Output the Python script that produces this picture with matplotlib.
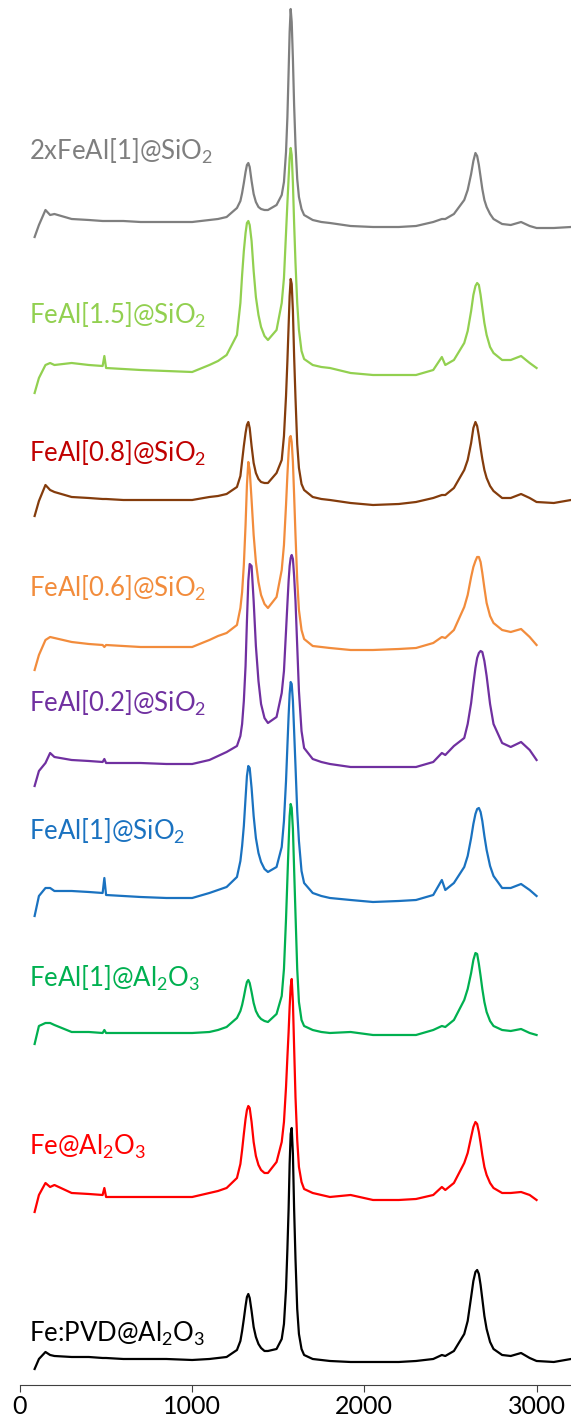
import numpy as np
import matplotlib
matplotlib.use("Agg")
import matplotlib.pyplot as plt

plt.rcParams['font.family'] = ['Lato', 'DejaVu Sans']
plt.rcParams['mathtext.fontset'] = 'custom'
plt.rcParams['mathtext.rm'] = 'Lato'
plt.rcParams['mathtext.default'] = 'regular'

# Raman shift (cm-1), shared by all spectra
shift = [85, 110, 148, 175, 200, 300, 400, 480, 490, 500, 600, 700, 850,
         1000, 1100, 1150, 1200, 1260, 1280, 1290, 1300, 1310, 1318, 1326,
         1334, 1345, 1357, 1370, 1385, 1400, 1420, 1440, 1490, 1520, 1533,
         1545, 1553, 1560, 1566, 1572, 1578, 1585, 1592, 1600, 1610, 1620,
         1635, 1650, 1700, 1750, 1800, 1920, 2050, 2200, 2300, 2400, 2450,
         2470, 2520, 2580, 2600, 2620, 2633, 2645, 2655, 2665, 2675, 2685,
         2697, 2710, 2730, 2750, 2800, 2850, 2910, 2960, 3000]
# three spectra go on past 3000
shift_tail = [3100, 3200]

# intensities (a.u.)
i_2x_feal1_sio2 = [0, 12, 27, 22, 23, 18, 17, 16, 16, 16, 16, 15, 15,
                   15, 17, 18, 20, 29, 36, 44, 54, 65, 72, 74,
                   70, 56, 43, 35, 30, 28, 27, 27, 32, 42, 55,
                   85, 120, 165, 205, 228, 215, 178, 132, 92, 58, 40,
                   28, 22, 17, 15, 14, 11, 10, 10, 11, 15, 18,
                   18, 23, 37, 47, 63, 76, 84, 81, 72, 60, 48,
                   37, 30, 23, 18, 13, 12, 15, 11, 9]
tail_2x_feal1_sio2 = [9, 10]

i_feal15_sio2 = [0, 15, 28, 30, 28, 30, 28, 27, 37, 25, 24, 23, 22,
                 21, 28, 32, 38, 58, 90, 118, 142, 160, 170, 172,
                 168, 152, 122, 96, 78, 66, 57, 53, 63, 90, 115,
                 160, 190, 215, 235, 245, 238, 210, 170, 130, 90, 63,
                 42, 34, 28, 26, 25, 20, 18, 18, 18, 23, 36,
                 28, 33, 50, 62, 82, 98, 107, 110, 108, 98, 85,
                 70, 58, 46, 40, 33, 33, 37, 30, 25]

i_feal08_sio2 = [0, 15, 31, 26, 24, 19, 18, 17, 17, 17, 16, 16, 16,
                 16, 19, 20, 22, 29, 40, 55, 70, 83, 91, 94,
                 88, 70, 53, 43, 37, 34, 33, 33, 43, 56, 80,
                 120, 155, 190, 220, 237, 232, 205, 160, 118, 72, 48,
                 32, 26, 19, 17, 16, 13, 11, 12, 14, 18, 21,
                 21, 28, 46, 56, 73, 88, 94, 90, 80, 68, 57,
                 46, 38, 30, 25, 18, 18, 22, 18, 14]
tail_feal08_sio2 = [13, 16]

i_feal06_sio2 = [0, 15, 30, 33, 32, 28, 26, 25, 23, 25, 24, 23, 23,
                 23, 30, 34, 37, 45, 62, 78, 105, 145, 185, 208,
                 200, 170, 135, 108, 88, 75, 66, 62, 73, 100, 125,
                 165, 195, 218, 232, 234, 228, 208, 175, 135, 90, 60,
                 40, 31, 24, 23, 22, 20, 20, 21, 22, 27, 33,
                 32, 40, 63, 75, 93, 103, 109, 113, 113, 108, 97,
                 82, 67, 54, 47, 40, 38, 41, 33, 25]

i_feal02_sio2 = [0, 15, 23, 33, 29, 26, 25, 24, 27, 23, 23, 23, 22,
                 22, 26, 30, 34, 40, 50, 62, 85, 120, 165, 205,
                 222, 220, 185, 140, 105, 82, 68, 63, 69, 93, 115,
                 155, 182, 205, 220, 228, 231, 227, 210, 185, 140, 95,
                 55, 38, 27, 24, 22, 19, 19, 19, 19, 24, 33,
                 31, 40, 48, 62, 83, 102, 118, 128, 133, 135, 134,
                 125, 110, 82, 62, 43, 39, 44, 36, 26]

i_feal1_sio2 = [0, 20, 28, 28, 25, 25, 24, 23, 38, 21, 20, 19, 18,
                18, 23, 26, 29, 39, 55, 70, 90, 118, 140, 150,
                148, 128, 100, 78, 63, 54, 47, 44, 49, 69, 95,
                135, 170, 200, 222, 234, 232, 215, 185, 150, 105, 75,
                45, 33, 23, 20, 18, 16, 14, 15, 16, 21, 36,
                26, 33, 49, 60, 78, 92, 102, 107, 108, 104, 95,
                80, 66, 50, 40, 28, 28, 32, 26, 20]

i_feal1_al2o3 = [0, 18, 21, 21, 19, 12, 12, 11, 14, 11, 11, 11, 11,
                 11, 12, 14, 17, 26, 33, 39, 47, 56, 62, 64,
                 61, 52, 41, 33, 28, 25, 23, 22, 30, 48, 75,
                 125, 165, 200, 228, 240, 236, 215, 175, 130, 75, 42,
                 24, 18, 14, 12, 11, 12, 9, 9, 9, 14, 18,
                 17, 24, 44, 55, 71, 84, 91, 90, 80, 68, 55,
                 42, 32, 23, 18, 14, 13, 15, 11, 9]

i_fe_al2o3 = [0, 17, 29, 25, 27, 19, 18, 17, 24, 15, 15, 15, 15,
              15, 19, 21, 24, 34, 48, 62, 78, 93, 102, 106,
              104, 90, 70, 56, 47, 42, 39, 39, 50, 70, 90,
              125, 155, 180, 205, 225, 233, 210, 165, 115, 72, 45,
              30, 23, 19, 17, 15, 17, 12, 12, 13, 17, 25,
              22, 29, 49, 59, 75, 85, 90, 88, 80, 69, 57,
              45, 37, 29, 24, 19, 19, 20, 17, 12]

i_fe_pvd_al2o3 = [0, 10, 17, 14, 13, 12, 12, 11, 11, 11, 10, 10, 10,
                  9, 10, 11, 12, 19, 28, 38, 50, 63, 72, 75,
                  71, 58, 42, 32, 25, 21, 18, 18, 20, 30, 45,
                  80, 120, 160, 205, 235, 241, 215, 160, 110, 60, 35,
                  20, 14, 10, 9, 8, 7, 7, 7, 8, 10, 14,
                  13, 18, 35, 48, 72, 88, 97, 99, 95, 84, 70,
                  53, 40, 27, 20, 14, 13, 16, 11, 8]
tail_fe_pvd_al2o3 = [7, 10]

labels = ['2xFeAl[1]@SiO$_2$', 'FeAl[1.5]@SiO$_2$', 'FeAl[0.8]@SiO$_2$',
          'FeAl[0.6]@SiO$_2$', 'FeAl[0.2]@SiO$_2$', 'FeAl[1]@SiO$_2$',
          'FeAl[1]@Al$_2$O$_3$', 'Fe@Al$_2$O$_3$', 'Fe:PVD@Al$_2$O$_3$']
spectra = [i_2x_feal1_sio2, i_feal15_sio2, i_feal08_sio2, i_feal06_sio2,
           i_feal02_sio2, i_feal1_sio2, i_feal1_al2o3, i_fe_al2o3,
           i_fe_pvd_al2o3]
tails = [tail_2x_feal1_sio2, None, tail_feal08_sio2, None, None, None,
         None, None, tail_fe_pvd_al2o3]

# vertical stacking offsets
offsets = [1148, 992, 869, 715, 599, 469, 341, 173, 16]
line_colors = ['#7f7f7f', '#92d050', '#843c0c', '#f28c3c', '#7030a0',
               '#1a72c0', '#00b050', '#ff0000', '#000000']
label_colors = ['#7f7f7f', '#92d050', '#c00000', '#f28c3c', '#7030a0',
                '#1a72c0', '#00b050', '#ff0000', '#000000']
label_y = [1225, 1061, 923, 788, 673, 545, 398, 230, 43]

fig = plt.figure(figsize=(5.71, 14.16), dpi=100)
ax = fig.add_axes([0.035, 0.0219, 0.965, 0.9781])

for k in range(len(spectra)):
    x = list(shift)
    y = list(spectra[k])
    if tails[k] is not None:
        x = x + shift_tail
        y = y + tails[k]
    y = np.array(y) + offsets[k]
    ax.plot(x, y, color=line_colors[k], lw=1.6)
    ax.text(50, label_y[k], labels[k], color=label_colors[k], fontsize=18.5,
            va='baseline', ha='left')

ax.set_xlim(0, 3200)
ax.set_ylim(0, 1385)
ax.set_xticks([0, 1000, 2000, 3000])
ax.set_yticks([])
for s in ['left', 'right', 'top']:
    ax.spines[s].set_visible(False)
ax.spines['bottom'].set_color('#404040')
ax.tick_params(axis='x', direction='out', length=5, color='#404040',
               labelsize=18, pad=2)
ax.patch.set_alpha(0)

fig.savefig('out.png', dpi=100)
